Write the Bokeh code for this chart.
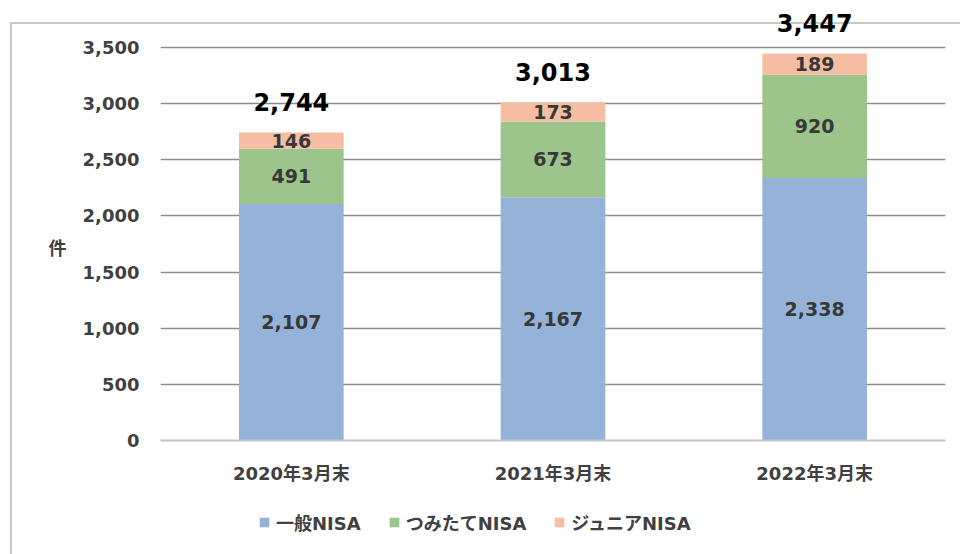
import pandas as pd
from bokeh.plotting import figure
from bokeh.layouts import column
from bokeh.core.properties import value
from bokeh.models import (ColumnDataSource, LabelSet, FactorRange, FixedTicker,
                          NumeralTickFormatter, Legend, LegendItem, Range1d)
from bokeh.embed import file_html
from bokeh.resources import INLINE

# ---- data ----
categories = ["2020年3月末", "2021年3月末", "2022年3月末"]
series_keys = ["general", "tsumitate", "junior"]
series_names = ["一般NISA", "つみたてNISA", "ジュニアNISA"]
general = [2107, 2167, 2338]
tsumitate = [491, 673, 920]
junior = [146, 173, 189]
totals = [2744, 3013, 3447]
y_ticks = [0, 500, 1000, 1500, 2000, 2500, 3000, 3500]
y_axis_label = "件"

colors = ["#95B3D8", "#9DC48B", "#F5BDA2"]
FONT = "'DejaVu Sans', 'Noto Sans CJK JP'"
TXT = "#404040"

df = pd.DataFrame({"cat": categories, "general": general,
                   "tsumitate": tsumitate, "junior": junior, "total": totals})
src = ColumnDataSource(df)

rows = []
for i, c in enumerate(categories):
    base = 0
    for k in series_keys:
        v = int(df[k][i])
        rows.append({"x": c, "y": base + v / 2, "text": f"{v:,}"})
        base += v
seg = ColumnDataSource(pd.DataFrame(rows))
tot = ColumnDataSource(dict(x=categories, y=totals, text=[f"{t:,}" for t in totals]))

# frame: y=0 at 440px, 3500 at 47px -> extend range to canvas top
top_val = 3500 + 47 * 3500 / 393
p = figure(x_range=FactorRange(*categories), y_range=Range1d(0, top_val),
           width=960, height=500, output_backend="svg", toolbar_location=None,
           min_border_left=160, min_border_right=15, min_border_top=0, min_border_bottom=60)
p.outline_line_color = None
p.background_fill_color = None
p.border_fill_color = None

rs = p.vbar_stack(series_keys, x="cat", width=0.4, color=colors, source=src,
                  line_color=None)

p.xgrid.grid_line_color = None
p.ygrid.ticker = FixedTicker(ticks=y_ticks[1:])
p.ygrid.grid_line_color = "#8c8c8c"
p.ygrid.grid_line_width = 1.5

p.yaxis.ticker = FixedTicker(ticks=y_ticks)
p.yaxis.formatter = NumeralTickFormatter(format="0,0")
p.yaxis.axis_line_color = None
p.yaxis.major_tick_line_color = None
p.yaxis.minor_tick_line_color = None
p.yaxis.major_label_standoff = 15
p.yaxis.major_label_text_font = "DejaVu Sans"
p.yaxis.major_label_text_font_style = "bold"
p.yaxis.major_label_text_font_size = "18px"
p.yaxis.major_label_text_color = TXT
p.yaxis.axis_label = "\n\n" + y_axis_label
p.yaxis.axis_label_orientation = "horizontal"
p.yaxis.axis_label_text_font = "Noto Sans CJK JP"
p.yaxis.axis_label_text_font_style = "bold"
p.yaxis.axis_label_text_font_size = "18px"
p.yaxis.axis_label_text_line_height = 1.0
p.yaxis.axis_label_text_color = TXT
p.yaxis.axis_label_standoff = 13

p.xaxis.axis_line_color = "#c4c4c4"
p.xaxis.axis_line_width = 2
p.xaxis.major_tick_line_color = None
p.xaxis.minor_tick_line_color = None
p.xaxis.major_label_standoff = 16
p.xaxis.major_label_text_font = FONT
p.xaxis.major_label_text_font_style = "bold"
p.xaxis.major_label_text_font_size = "18px"
p.xaxis.major_label_text_color = TXT

p.add_layout(LabelSet(x="x", y="y", text="text", source=seg, text_align="center",
                      text_baseline="middle", text_font=value("DejaVu Sans"),
                      text_font_style="bold", text_font_size="19px", text_color="#383838"))
p.add_layout(LabelSet(x="x", y="y", text="text", source=tot, text_align="center",
                      text_baseline="middle", y_offset=30, text_font=value("DejaVu Sans"),
                      text_font_style="bold", text_font_size="24px", text_color="#000000"))

# legend strip below (same series, drawn far below its view so only the legend shows)
lf = figure(width=960, height=54, x_range=FactorRange(*categories), y_range=(10000, 10001),
            output_backend="svg", toolbar_location=None, min_border=0,
            x_axis_location=None, y_axis_location=None)
lf.outline_line_color = None
lf.background_fill_color = None
lf.border_fill_color = None
lf.grid.visible = False
lrs = lf.vbar_stack(series_keys, x="cat", width=0.4, color=colors, source=src,
                    line_color=None)

legend = Legend(items=[LegendItem(label=n, renderers=[r]) for n, r in zip(series_names, lrs)],
                orientation="horizontal", location=(98, 19))
legend.label_text_font = FONT
legend.label_text_font_style = "bold"
legend.label_text_font_size = "18px"
legend.label_text_color = TXT
legend.glyph_width = 12
legend.glyph_height = 12
legend.label_standoff = 6
legend.spacing = 27
legend.padding = 0
legend.margin = 0
legend.border_line_color = None
legend.background_fill_alpha = 0
lf.add_layout(legend)

layout = column(p, lf, spacing=0)
layout.styles = {
    "background-color": "white",
    "background-image": "linear-gradient(#c8c8c8, #c8c8c8), linear-gradient(#c8c8c8, #c8c8c8)",
    "background-size": "2px 100%, 100% 2px",
    "background-position": "10px 22px, 10px 22px",
    "background-repeat": "no-repeat",
}

open("out.html", "w").write(file_html(layout, INLINE))
